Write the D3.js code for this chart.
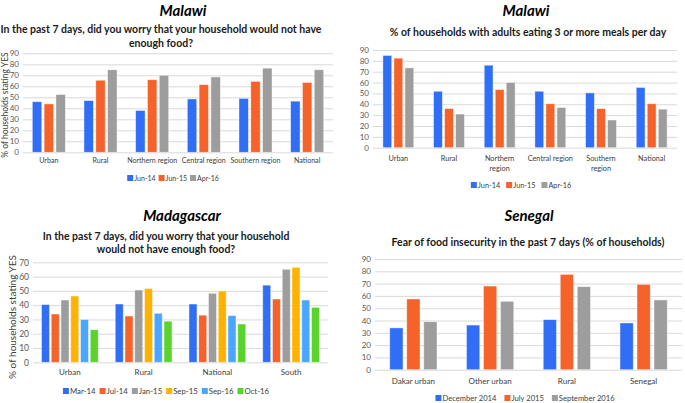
<!DOCTYPE html>
<html>
<head>
<meta charset="utf-8">
<script src="https://cdn.jsdelivr.net/npm/d3@7"></script>
<style>
  body { margin: 0; background: #fff; }
  svg { display: block; font-family: Lato, "Liberation Sans", sans-serif; }
</style>
</head>
<body>
<div id="chart"></div>
<script>
(function(d3){

  // ---- data ----

  // Malawi, worry about food
  var mwWorryCats = ['Urban', 'Rural', 'Northern region', 'Central region', 'Southern region', 'National'],
      mwWorrySeries = ['Jun-14', 'Jun-15', 'Apr-16'],
      mwWorryValues = [
        [46, 47, 38, 48.5, 49, 46.5],
        [44, 65.5, 66, 61.5, 64.5, 63.5],
        [52.5, 75, 70, 68.5, 76.5, 75]
      ],
      mwWorryTicks = [0, 10, 20, 30, 40, 50, 60, 70, 80, 90];

  // Malawi, 3 or more meals
  var mwMealsCats = ['Urban', 'Rural', 'Northern region', 'Central region', 'Southern region', 'National'],
      mwMealsSeries = ['Jun-14', 'Jun-15', 'Apr-16'],
      mwMealsValues = [
        [85, 52, 76, 52, 50.5, 55.5],
        [82.5, 36, 53.5, 40.5, 36, 40.5],
        [73.5, 31, 60, 37, 25.5, 35.5]
      ],
      mwMealsTicks = [0, 10, 20, 30, 40, 50, 60, 70, 80, 90];

  // Madagascar
  var mgCats = ['Urban', 'Rural', 'National', 'South'],
      mgSeries = ['Mar-14', 'Jul-14', 'Jan-15', 'Sep-15', 'Sep-16', 'Oct-16'],
      mgValues = [
        [40.4, 40.8, 40.8, 54],
        [33.8, 32.4, 33, 44.3],
        [43.6, 50.6, 48.3, 65.1],
        [46.4, 51.6, 49.9, 66.5],
        [30, 34.3, 32.7, 43.6],
        [22.8, 28.8, 26.8, 38.5]
      ],
      mgTicks = [0, 10, 20, 30, 40, 50, 60, 70];

  // Senegal
  var snCats = ['Dakar urban', 'Other urban', 'Rural', 'Senegal'],
      snSeries = ['December 2014', 'July 2015', 'September 2016'],
      snValues = [
        [34, 36.3, 40.7, 38],
        [57.5, 68, 77.5, 69.4],
        [39, 55.6, 67.5, 56.7]
      ],
      snTicks = [0, 10, 20, 30, 40, 50, 60, 70, 80, 90];

  var colors3 = ['#2f6ef5', '#f5622a', '#9d9d9d'],
      colors6 = ['#2f6ef5', '#f5622a', '#9d9d9d', '#ffb300', '#4aa6ff', '#5ad42c'];

  var canvas_d = {width: 685, height: 403};

  var svg = d3.select('#chart').append('svg')
      .attr('width', canvas_d.width)
      .attr('height', canvas_d.height);


  /**
   * Draw one grouped bar panel.
   */
  function drawPanel(p) {
    var g = svg.append('g');

    var x = d3.scaleBand()
        .domain(p.cats)
        .range([p.x0, p.x1])
        .paddingInner(p.pad)
        .paddingOuter(p.pad / 2);

    var x1 = d3.scaleBand()
        .domain(d3.range(p.series.length))
        .range([0, x.bandwidth()])
        .paddingInner(p.innerPad);

    var y = d3.scaleLinear()
        .domain([0, d3.max(p.ticks)])
        .range([p.yBot, p.yTop]);

    // gridlines
    g.append('g')
        .attr('transform', 'translate(' + p.x0 + ',0)')
        .call(d3.axisLeft(y).tickValues(p.ticks).tickSize(-(p.x1 - p.x0)).tickFormat(''))
        .call(function(a) {
          a.select('.domain').remove();
          a.selectAll('line').attr('stroke', '#d9d9d9');
        });

    // y tick labels
    g.append('g')
        .attr('transform', 'translate(' + (p.x0 - 4) + ',0)')
        .call(d3.axisLeft(y).tickValues(p.ticks).tickSize(0).tickPadding(0))
        .call(function(a) {
          a.select('.domain').remove();
          a.selectAll('text')
            .attr('fill', '#595959')
            .style('font-size', p.yTickSize + 'px')
            .style('font-family', 'Lato, sans-serif');
        });

    // bars
    p.values.forEach(function(vals, si) {
      g.append('g').selectAll('rect')
          .data(vals)
        .enter().append('rect')
          .attr('x', function(d, i) { return x(p.cats[i]) + x1(si); })
          .attr('width', x1.bandwidth())
          .attr('y', function(d) { return y(d); })
          .attr('height', function(d) { return y(0) - y(d); })
          .attr('fill', p.colors[si])
          .attr('stroke', 'rgba(255,255,255,0.55)')
          .attr('stroke-width', 0.8);
    });

    // x labels
    p.cats.forEach(function(c) {
      var lines = (p.breakLabels && p.breakLabels.indexOf(c) > -1) ? c.split(' ') : [c];
      var t = g.append('text')
          .attr('x', x(c) + x.bandwidth() / 2)
          .attr('y', p.xLabelY)
          .attr('text-anchor', 'middle')
          .attr('dominant-baseline', 'central')
          .attr('fill', '#404040')
          .style('font-size', p.xTickSize + 'px');
      lines.forEach(function(l, i) {
        t.append('tspan')
          .attr('x', x(c) + x.bandwidth() / 2)
          .attr('dy', i === 0 ? 0 : 9.5)
          .text(l);
      });
    });

    // titles
    g.append('text')
        .attr('x', p.titleX).attr('y', p.titleY)
        .attr('text-anchor', 'middle')
        .attr('dominant-baseline', 'central')
        .style('font-size', '15px')
        .style('font-weight', 'bold')
        .style('font-style', 'italic')
        .attr('fill', '#000')
        .text(p.title);

    p.subtitle.forEach(function(s, i) {
      g.append('text')
          .attr('x', p.subX).attr('y', p.subY + i * p.subGap)
          .attr('text-anchor', 'middle')
          .attr('dominant-baseline', 'central')
          .style('font-size', p.subSize + 'px')
          .style('font-weight', 'bold')
          .attr('fill', '#1a1a1a')
          .text(s);
    });

    // y title
    if (p.yTitle) {
      g.append('text')
          .attr('transform', 'translate(' + p.yTitleX + ',' + p.yTitleY + ') rotate(-90)')
          .attr('text-anchor', 'middle')
          .attr('dominant-baseline', 'central')
          .style('font-size', p.yTitleSize + 'px')
          .attr('fill', '#404040')
          .text(p.yTitle);
    }

    // legend
    var leg = g.append('g'), cx = 0;
    p.series.forEach(function(s, i) {
      leg.append('rect')
          .attr('x', cx).attr('y', -3)
          .attr('width', 6).attr('height', 6)
          .attr('fill', p.colors[i]);
      var t = leg.append('text')
          .attr('x', cx + 7).attr('y', 0)
          .attr('dominant-baseline', 'central')
          .attr('fill', '#404040')
          .style('font-size', p.legSize + 'px')
          .text(s);
      cx += 7 + t.node().getComputedTextLength() + p.legGap;
    });
    cx -= p.legGap;
    leg.attr('transform', 'translate(' + (p.legX - cx / 2) + ',' + p.legY + ')');
  }


  drawPanel({
    cats: mwWorryCats, series: mwWorrySeries, values: mwWorryValues, ticks: mwWorryTicks, colors: colors3,
    x0: 23, x1: 333, yTop: 53.3, yBot: 152.3, pad: 0.36, innerPad: 0.2,
    yTickSize: 8, xTickSize: 7.1, legSize: 7, xLabelY: 160,
    title: 'Malawi', titleX: 183, titleY: 10,
    subtitle: ['In the past 7 days, did you worry that your household would not have', 'enough food?'],
    subX: 161, subY: 29, subGap: 14, subSize: 10.5,
    yTitle: '% of households stating YES', yTitleX: 5, yTitleY: 105, yTitleSize: 8.5,
    legX: 173, legY: 178, legGap: 3
  });

  drawPanel({
    cats: mwMealsCats, series: mwMealsSeries, values: mwMealsValues, ticks: mwMealsTicks, colors: colors3,
    x0: 373, x1: 677, yTop: 50, yBot: 147.7, pad: 0.39, innerPad: 0.2,
    yTickSize: 8, xTickSize: 7.3, legSize: 7.3, xLabelY: 158, breakLabels: ['Northern region', 'Southern region'],
    title: 'Malawi', titleX: 526, titleY: 10,
    subtitle: ['% of households with adults eating 3 or more meals per day'],
    subX: 528, subY: 32, subGap: 14, subSize: 10.5,
    legX: 521, legY: 185, legGap: 6
  });

  drawPanel({
    cats: mgCats, series: mgSeries, values: mgValues, ticks: mgTicks, colors: colors6,
    x0: 33, x1: 328, yTop: 262.3, yBot: 362.3, pad: 0.23, innerPad: 0.18,
    yTickSize: 8.5, xTickSize: 8, legSize: 7.8, xLabelY: 372,
    title: 'Madagascar', titleX: 182, titleY: 215,
    subtitle: ['In the past 7 days, did you worry that your household', 'would not have enough food?'],
    subX: 166, subY: 236, subGap: 13, subSize: 10.5,
    yTitle: '% of households stating YES', yTitleX: 12, yTitleY: 317, yTitleSize: 10,
    legX: 166, legY: 391, legGap: 4
  });

  drawPanel({
    cats: snCats, series: snSeries, values: snValues, ticks: snTicks, colors: colors3,
    x0: 375, x1: 682, yTop: 259, yBot: 369.7, pad: 0.384, innerPad: 0.22,
    yTickSize: 8, xTickSize: 8, legSize: 7.6, xLabelY: 381,
    title: 'Senegal', titleX: 529, titleY: 215,
    subtitle: ['Fear of food insecurity in the past 7 days (% of households)'],
    subX: 528, subY: 242, subGap: 14, subSize: 10.5,
    legX: 525, legY: 398, legGap: 8
  });

})(d3);
</script>
</body>
</html>
